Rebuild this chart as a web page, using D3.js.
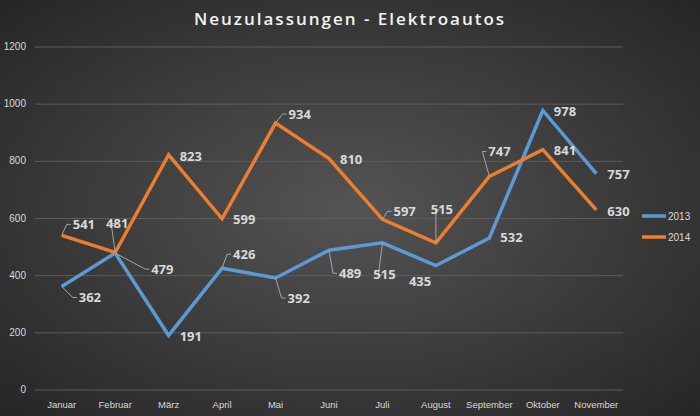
<!DOCTYPE html>
<html><head><meta charset="utf-8">
<script src="https://cdn.jsdelivr.net/npm/d3@7"></script>
<style>body{margin:0;background:#222}</style>
</head><body>
<svg id="chart" width="700" height="416"></svg>
<script>
const months = ["Januar","Februar","März","April","Mai","Juni","Juli","August","September","Oktober","November"];
const v2013 = [362,479,191,426,392,489,515,435,532,978,757];
const v2014 = [541,481,823,599,934,810,597,515,747,841,630];
const yTicks = [0,200,400,600,800,1000,1200];

// label offsets [dx, dy, leader]
const off2013 = [[28,11,1],[47,16,1],[22,1,0],[22,-14,1],[23,20,1],[21,23,1],[2,32,1],[-16,16,0],[22,0,0],[22,1,0],[22,1,0]];
const off2014 = [[22,-11,1],[2,-29,1],[22,2,0],[22,1,0],[24,-9,1],[22,1,0],[22,-8,1],[6,-33,1],[10,-25,1],[22,1,0],[22,2,0]];

const svg = d3.select("#chart");
const defs = svg.append("defs");
const grad = defs.append("radialGradient").attr("id","bg").attr("cx","50%").attr("cy","50%").attr("r","70%");
grad.append("stop").attr("offset","0%").attr("stop-color","#545454");
grad.append("stop").attr("offset","100%").attr("stop-color","#262626");
svg.append("rect").attr("width",700).attr("height",416).attr("fill","url(#bg)");

const x = d3.scalePoint().domain(months).range([35,623]).padding(0.5);
const y = d3.scaleLinear().domain([0,1200]).range([390,47]);

svg.append("text").attr("x",350).attr("y",25).attr("text-anchor","middle")
    .attr("font-family","Open Sans").attr("font-size",17).attr("font-weight","600")
    .attr("letter-spacing",2).attr("fill","#f2f2f2").text("Neuzulassungen - Elektroautos");

// grid
svg.append("g").selectAll("line").data(yTicks).enter().append("line")
    .attr("x1",35).attr("x2",623).attr("y1",d=>y(d)).attr("y2",d=>y(d))
    .attr("stroke","#5c5c5c").attr("stroke-width",1);
svg.append("g").selectAll("text").data(yTicks).enter().append("text")
    .attr("x",26).attr("y",d=>y(d)+3).attr("text-anchor","end")
    .attr("font-family","Liberation Sans").attr("font-size",10).attr("fill","#d9d9d9").text(d=>d);
svg.append("g").selectAll("text").data(months).enter().append("text")
    .attr("x",d=>x(d)).attr("y",408).attr("text-anchor","middle")
    .attr("font-family","Liberation Sans").attr("font-size",9.5).attr("fill","#d9d9d9").text(d=>d);

const line = d3.line().x((d,i)=>x(months[i])).y(d=>y(d));

function series(vals, offs, color){
    const g = svg.append("g");
    g.append("path").datum(vals).attr("d",line).attr("fill","none")
        .attr("stroke",color).attr("stroke-width",3.5).attr("stroke-linejoin","miter");
    vals.forEach(function(v,i){
        const px = x(months[i]), py = y(v), o = offs[i];
        const lx = px+o[0], ly = py+o[1];
        if(o[2]){
            const ex = lx - 13*Math.sign(o[0]||0.0001)*(Math.abs(o[0])>8?1:0);
            const ex2 = Math.abs(o[0])>8 ? lx-13 : lx-2;
            g.append("polyline").attr("points",[px,py, ex2-4,ly, ex2,ly].join(" ").replace(/(\S+) (\S+)/g,"$1,$2"))
                .attr("fill","none").attr("stroke","#a6a6a6").attr("stroke-width",1);
        }
        g.append("text").attr("x",lx).attr("y",ly).attr("dy","0.35em").attr("text-anchor",Math.abs(o[0])>8?"start":"middle")
            .attr("dx",Math.abs(o[0])>8?-11:0)
            .attr("font-family","Open Sans").attr("font-weight","bold").attr("font-size",13)
            .attr("fill","#d9d9d9").text(v);
    });
}
series(v2013, off2013, "#5b9bd5");
series(v2014, off2014, "#ed7d31");

const leg = svg.append("g");
[["2013","#5b9bd5"],["2014","#ed7d31"]].forEach(function(d,i){
    const ly = 216 + i*21;
    leg.append("line").attr("x1",642).attr("x2",666).attr("y1",ly).attr("y2",ly).attr("stroke",d[1]).attr("stroke-width",3.5);
    leg.append("text").attr("x",668).attr("y",ly+3.5).attr("font-family","Liberation Sans").attr("font-size",10)
        .attr("fill","#d9d9d9").text(d[0]);
});
</script>
</body></html>
